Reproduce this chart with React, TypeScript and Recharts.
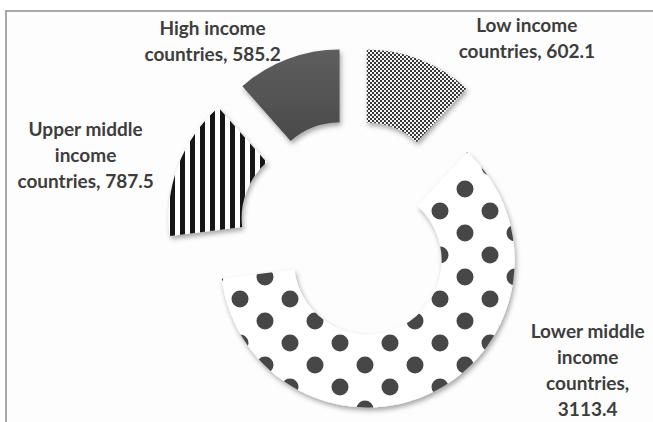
import React from 'react'
import { PieChart, Pie, Cell } from 'recharts'

// values, clockwise from 12 o'clock
const categories = [
  'Low income countries',
  'Lower middle income countries',
  'Upper middle income countries',
  'High income countries',
]
const values = [602.1, 3113.4, 787.5, 585.2]

const data = categories.map((name, i) => ({ name, value: values[i] }))

const fills = ['url(#checker)', 'url(#dots)', 'url(#stripes)', 'url(#solidDark)']
// how far each slice is pulled out along its bisector (px)
const explode = [38, 32, 40, 38]
// label block centre relative to the exploded slice centre, and wrap width in chars
const labelOffset = [
  [160, -160],
  [220, 109],
  [-230, -64],
  [-127, -156],
]
const wrapChars = [16, 12, 16, 16]

const BASE_CX = 353
const BASE_CY = 232
const INNER = 74
const OUTER = 147
const LINE_H = 26

function wrap(text: string, max: number) {
  const words = text.split(' ')
  const lines: string[] = []
  let cur = ''
  for (const w of words) {
    const next = cur ? cur + ' ' + w : w
    if (next.length > max && cur) {
      lines.push(cur)
      cur = w
    } else {
      cur = next
    }
  }
  if (cur) lines.push(cur)
  return lines
}

const total = values.reduce((a, b) => a + b, 0)
let acc = 0
const centers = values.map((v, i) => {
  const mid = ((acc + v / 2) / total) * 2 * Math.PI
  acc += v
  return {
    x: BASE_CX + explode[i] * Math.sin(mid),
    y: BASE_CY - explode[i] * Math.cos(mid),
  }
})

function makeLabel(slice: number) {
  return (props: any) => {
    if (props.index !== slice) return null
    const { name, value } = props.payload
    const lines = wrap(`${name}, ${value}`, wrapChars[slice])
    const x = props.cx + labelOffset[slice][0]
    const y0 = props.cy + labelOffset[slice][1] - ((lines.length - 1) * LINE_H) / 2
    return (
      <text
        key={`lbl-${slice}`}
        x={x}
        y={y0}
        textAnchor="middle"
        dominantBaseline="central"
        fill="#3d3d3d"
        style={{ fontFamily: 'Lato, sans-serif', fontWeight: 700, fontSize: 19 }}
      >
        {lines.map((l, k) => (
          <tspan key={k} x={x} y={y0 + k * LINE_H}>
            {l}
          </tspan>
        ))}
      </text>
    )
  }
}

export default function App() {
  return (
    <div
      style={{
        position: 'absolute',
        left: 0,
        top: 0,
        width: 653,
        height: 422,
        overflow: 'hidden',
        background: '#ffffff',
      }}
    >
      <div
        style={{
          position: 'absolute',
          left: 5,
          top: 10,
          width: 700,
          height: 500,
          borderTop: '2px solid #a9a9a9',
          borderLeft: '2px solid #a9a9a9',
          background: '#fdfdfd',
        }}
      />
      <div style={{ position: 'absolute', left: 0, top: 0 }}>
        <PieChart width={653} height={422} margin={{ top: 0, right: 0, bottom: 0, left: 0 }}>
          <defs>
            <pattern id="checker" width="4" height="4" patternUnits="userSpaceOnUse">
              <rect width="4" height="4" fill="#f4f4f4" />
              <rect width="2" height="2" fill="#383838" />
              <rect x="2" y="2" width="2" height="2" fill="#383838" />
            </pattern>
            <pattern id="stripes" width="10" height="10" patternUnits="userSpaceOnUse">
              <rect width="10" height="10" fill="#ffffff" />
              <rect width="5" height="10" fill="#151515" />
            </pattern>
            <pattern id="dots" width="50" height="44" patternUnits="userSpaceOnUse" x="3" y="2">
              <rect width="50" height="44" fill="#ffffff" />
              <circle cx="12" cy="11" r="8.5" fill="#464646" />
              <circle cx="37" cy="33" r="8.5" fill="#464646" />
            </pattern>
            <linearGradient id="solidDark" x1="0" y1="0" x2="0" y2="1">
              <stop offset="0%" stopColor="#5e5e5e" />
              <stop offset="60%" stopColor="#525252" />
              <stop offset="100%" stopColor="#4a4a4a" />
            </linearGradient>
            <filter id="shadow" x="-20%" y="-20%" width="140%" height="140%">
              <feDropShadow dx="1.5" dy="3" stdDeviation="2.5" floodColor="#000" floodOpacity="0.35" />
            </filter>
          </defs>
          {data.map((_, s) => (
            <Pie
              key={s}
              data={data}
              dataKey="value"
              nameKey="name"
              cx={centers[s].x}
              cy={centers[s].y}
              innerRadius={INNER}
              outerRadius={OUTER}
              startAngle={90}
              endAngle={-270}
              stroke="none"
              label={makeLabel(s)}
              labelLine={false}
              isAnimationActive={false}
            >
              {data.map((_, i) => (
                <Cell
                  key={i}
                  fill={i === s ? fills[i] : 'none'}
                  stroke="none"
                  filter={i === s ? 'url(#shadow)' : undefined}
                />
              ))}
            </Pie>
          ))}
        </PieChart>
      </div>
    </div>
  )
}
